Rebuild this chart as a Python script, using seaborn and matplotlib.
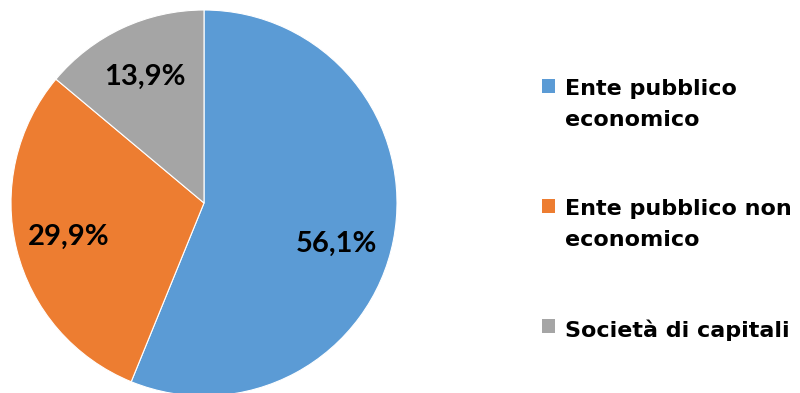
import matplotlib
matplotlib.use("Agg")
import matplotlib.pyplot as plt
import matplotlib.transforms as mtransforms
import seaborn as sns

categories = ["Ente pubblico\neconomico", "Ente pubblico non\neconomico", "Società di capitali"]
values = [56.1, 29.9, 13.9]
pct_labels = ["56,1%", "29,9%", "13,9%"]
colors = ["#5B9BD5", "#ED7D31", "#A5A5A5"]

sns.set_theme(style="white")
plt.rcParams['font.family'] = ['Lato', 'DejaVu Sans']
plt.rcParams['font.weight'] = 'bold'
plt.rcParams['text.color'] = 'black'

W, H = 800, 393
fig = plt.figure(figsize=(W / 100, H / 100), dpi=100)
cx, cy, R = 204, 203, 193
ax = fig.add_axes([(cx - R) / W, (H - cy - R) / H, 2 * R / W, 2 * R / H])
wedges, texts = ax.pie(values, colors=colors, startangle=90, counterclock=False,
                       labels=pct_labels, labeldistance=0.72, radius=1,
                       wedgeprops=dict(edgecolor="white", linewidth=0.8),
                       textprops=dict(fontsize=21, fontweight="bold", color="black",
                                      ha="center", va="center"))
for t in texts:
    t.set_horizontalalignment("center")
# Excel-style best-fit nudge for the largest slice label
texts[0].set_transform(mtransforms.offset_copy(texts[0].get_transform(), fig=fig,
                                               x=-4, y=-14, units="dots"))
ax.set_xlim(-1, 1)
ax.set_ylim(-1, 1)
ax.set_aspect("auto")
ax.set_axis_off()

leg = fig.legend(wedges, categories, loc="upper left",
                 bbox_to_anchor=(542 / W, 1 - 79 / H), frameon=False,
                 prop=dict(family=['DejaVu Sans'], size=16, weight="bold"),
                 handlelength=0.6, handleheight=0.6,
                 handletextpad=0.45, labelspacing=3.1, borderaxespad=0, borderpad=0)
for p in leg.get_patches():
    p.set_edgecolor("none")
for t in leg.get_texts():
    t.set_linespacing(1.7)
    t.set_color("black")
try:
    for col in leg._legend_handle_box.get_children():
        for hp in col.get_children():
            hp.align = "top"
except Exception:
    pass

fig.savefig("out.png", dpi=100)
